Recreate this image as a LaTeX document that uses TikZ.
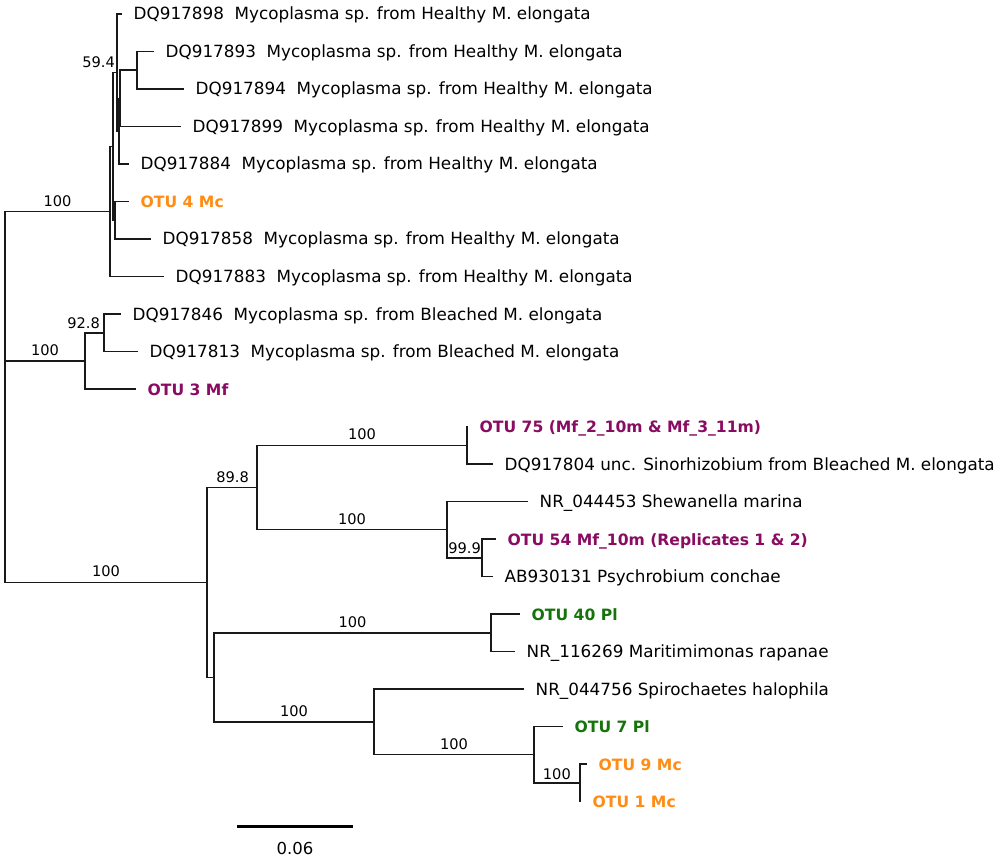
\documentclass[tikz,border=0pt]{standalone}
\usepackage{fontspec}
\setmainfont{DejaVu Sans}
\definecolor{otuorange}{RGB}{255,140,20}
\definecolor{otupurple}{RGB}{138,12,98}
\definecolor{otugreen}{RGB}{22,115,12}
\definecolor{brcol}{RGB}{25,25,25}
\begin{document}
\begin{tikzpicture}[x=1pt,y=-1pt,
  br/.style={line width=1.5pt, draw=brcol, line cap=rect, line join=miter},
  lab/.style={anchor=base west, inner sep=0pt, xshift=12.5pt, yshift=-6pt, font=\fontsize{16.8}{19}\selectfont},
  otu/.style={lab, font=\fontsize{15.6}{19}\selectfont\bfseries},
  sup/.style={anchor=base east, inner sep=0pt, font=\fontsize{14.6}{17}\selectfont},
  blab/.style={above=4.5pt, inner sep=0pt, font=\fontsize{14.6}{17}\selectfont}]
\useasboundingbox[fill=white] (0,0) rectangle (1000,858);
% leaves (branch ends)
\coordinate (l1) at (121,14);
\coordinate (l2) at (153,51.5);
\coordinate (l3) at (183,89);
\coordinate (l4) at (180,126.5);
\coordinate (l5) at (128,164);
\coordinate (l6) at (128,201.5);
\coordinate (l7) at (150,239);
\coordinate (l8) at (163,276.5);
\coordinate (l9) at (120,314);
\coordinate (l10) at (137,351.5);
\coordinate (l11) at (135,389);
\coordinate (l12) at (467,426.5);
\coordinate (l13) at (492,464);
\coordinate (l14) at (527,501.5);
\coordinate (l15) at (495,539);
\coordinate (l16) at (492,576.5);
\coordinate (l17) at (519,614);
\coordinate (l18) at (514,651.5);
\coordinate (l19) at (523,689);
\coordinate (l20) at (562,726.5);
\coordinate (l21) at (586,764);
\coordinate (l22) at (580,801.5);
% internal nodes
\coordinate (D) at (137,70.25);
\coordinate (C1) at (120,98.4);
\coordinate (C) at (119,131.2);
\coordinate (B) at (117,72.6);
\coordinate (E) at (115,220.25);
\coordinate (A2) at (113,146.4);
\coordinate (A) at (110,211.5);
\coordinate (N92) at (104,332.75);
\coordinate (N85) at (85,360.9);
\coordinate (N75) at (467,445.25);
\coordinate (N99) at (482,557.75);
\coordinate (N447) at (447,529.6);
\coordinate (N89) at (257,487.4);
\coordinate (N40) at (491,632.75);
\coordinate (N100) at (580,782.75);
\coordinate (N535) at (534,754.6);
\coordinate (N373) at (374,721.8);
\coordinate (N4) at (214,677.3);
\coordinate (N3) at (207,582.3);
\coordinate (r) at (5,396.9);
% branches
\draw[br] (l2) -- (D|-l2) -- (D|-l3) -- (l3);
\draw[br] (D) -- (C1|-D) -- (C1|-l4) -- (l4);
\draw[br] (C1) -- (C|-C1) -- (C|-l5) -- (l5);
\draw[br] (l1) -- (B|-l1) -- (B|-C) -- (C);
\draw[br] (l6) -- (E|-l6) -- (E|-l7) -- (l7);
\draw[br] (B) -- (A2|-B) -- (A2|-E) -- (E);
\draw[br] (A2) -- (A|-A2) -- (A|-l8) -- (l8);
\draw[br] (l9) -- (N92|-l9) -- (N92|-l10) -- (l10);
\draw[br] (N92) -- (N85|-N92) -- (N85|-l11) -- (l11);
\draw[br] (l12) -- (N75|-l13) -- (l13);
\draw[br] (l15) -- (N99|-l15) -- (N99|-l16) -- (l16);
\draw[br] (l14) -- (N447|-l14) -- (N447|-N99) -- (N99);
\draw[br] (N75) -- node[blab] {100} (N89|-N75) -- (N89|-N447) -- node[blab] {100} (N447);
\draw[br] (l17) -- (N40|-l17) -- (N40|-l18) -- (l18);
\draw[br] (l21) -- (N100|-l21) -- (l22);
\draw[br] (l20) -- (N535|-l20) -- (N535|-N100) -- (N100);
\draw[br] (l19) -- (N373|-l19) -- (N373|-N535) -- node[blab] {100} (N535);
\draw[br] (N40) -- node[blab] {100} (N4|-N40) -- (N4|-N373) -- node[blab] {100} (N373);
\draw[br] (N89) -- (N3|-N89) -- (N3|-N4) -- (N4);
\draw[br] (A) -- node[blab] {100} (r|-A) -- (r|-N3) -- node[blab] {100} (N3);
\draw[br] (r|-N85) -- node[blab] {100} (N85);
% support values at nodes
\node[sup] (s594) at (115,68) {59.4};
\node[sup] (s928) at (100,328) {92.8};
\node[sup] (s898) at (249,482) {89.8};
\node[sup] (s999) at (481,553) {99.9};
\node[sup] (s100) at (571,779) {100};
% tip labels
\node[lab] (t1) at (l1) {DQ917898\ \ Mycoplasma sp. from Healthy M. elongata};
\node[lab] (t2) at (l2) {DQ917893\ \ Mycoplasma sp. from Healthy M. elongata};
\node[lab] (t3) at (l3) {DQ917894\ \ Mycoplasma sp. from Healthy M. elongata};
\node[lab] (t4) at (l4) {DQ917899\ \ Mycoplasma sp. from Healthy M. elongata};
\node[lab] (t5) at (l5) {DQ917884\ \ Mycoplasma sp. from Healthy M. elongata};
\node[otu, text=otuorange] (t6) at (l6) {OTU 4 Mc};
\node[lab] (t7) at (l7) {DQ917858\ \ Mycoplasma sp. from Healthy M. elongata};
\node[lab] (t8) at (l8) {DQ917883\ \ Mycoplasma sp. from Healthy M. elongata};
\node[lab] (t9) at (l9) {DQ917846\ \ Mycoplasma sp. from Bleached M. elongata};
\node[lab] (t10) at (l10) {DQ917813\ \ Mycoplasma sp. from Bleached M. elongata};
\node[otu, text=otupurple] (t11) at (l11) {OTU 3 Mf};
\node[otu, text=otupurple] (t12) at (l12) {OTU 75 (Mf\_2\_10m \& Mf\_3\_11m)};
\node[lab] (t13) at (l13) {DQ917804 unc. Sinorhizobium from Bleached M. elongata};
\node[lab] (t14) at (l14) {NR\_044453 Shewanella marina};
\node[otu, text=otupurple] (t15) at (l15) {OTU 54 Mf\_10m (Replicates 1 \& 2)};
\node[lab] (t16) at (l16) {AB930131 Psychrobium conchae};
\node[otu, text=otugreen] (t17) at (l17) {OTU 40 Pl};
\node[lab] (t18) at (l18) {NR\_116269 Maritimimonas rapanae};
\node[lab] (t19) at (l19) {NR\_044756 Spirochaetes halophila};
\node[otu, text=otugreen] (t20) at (l20) {OTU 7 Pl};
\node[otu, text=otuorange] (t21) at (l21) {OTU 9 Mc};
\node[otu, text=otuorange] (t22) at (l22) {OTU 1 Mc};
% scale bar
\coordinate (sb1) at (237,826);
\coordinate (sb2) at (353,826);
\draw[line width=3pt, draw=black] (sb1) -- (sb2);
\node[anchor=base, inner sep=0pt, font=\fontsize{16.5}{18}\selectfont] (sbl) at (295,854) {0.06};
\end{tikzpicture}
\end{document}
